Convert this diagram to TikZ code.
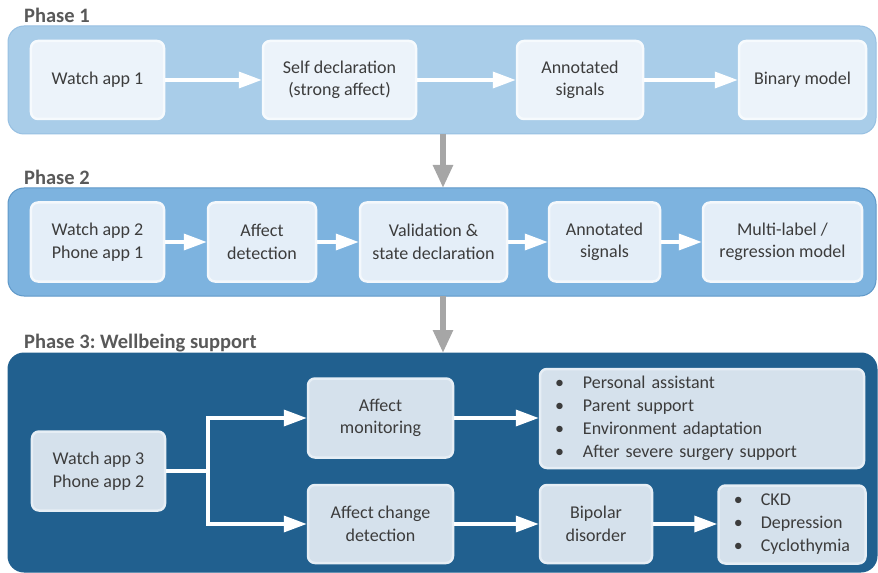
\documentclass[tikz,border=0pt]{standalone}
\usepackage{fontspec}
\setmainfont{Carlito}
\frenchspacing
\usetikzlibrary{arrows.meta}
\definecolor{pone}{HTML}{A9CDE9}
\definecolor{ponee}{HTML}{97C0E2}
\definecolor{ptwo}{HTML}{7DB3DF}
\definecolor{ptwoe}{HTML}{5F98C8}
\definecolor{pthree}{HTML}{21608F}
\definecolor{bone}{HTML}{ECF3FA}
\definecolor{btwo}{HTML}{E4EEF8}
\definecolor{bthree}{HTML}{D5E1EC}
\definecolor{bthreee}{HTML}{E6EEF5}
\definecolor{txt}{HTML}{3C3C3C}
\definecolor{ttl}{HTML}{595959}
\definecolor{garrow}{HTML}{A6A6A6}
\tikzset{
  panel/.style={rounded corners=16bp, line width=1bp},
  boxbase/.style={rounded corners=7bp, line width=2.5bp, align=center, text=txt,
    font=\fontsize{18bp}{22.5bp}\selectfont, inner sep=0pt},
  box1/.style={boxbase, fill=bone, draw=white!55!bone},
  box2/.style={boxbase, fill=btwo, draw=white!60!btwo},
  box3/.style={boxbase, fill=bthree, draw=bthreee},
  listbox/.style={box3, font=\fontsize{18bp}{23bp}\selectfont},
  title/.style={anchor=base west, text=ttl, font=\fontsize{20.5bp}{24bp}\selectfont\bfseries, inner sep=0pt},
  warrow/.style={draw=white, line width=3.5bp, -{Triangle[length=23bp,width=16bp]}},
  garr/.style={draw=garrow, line width=5.5bp, -{Triangle[length=23bp,width=19bp]}}
}
\newcommand{\bul}[1]{\makebox[#1][l]{•}}
\begin{document}
\begin{tikzpicture}[x=1bp,y=-1bp]
\useasboundingbox (0,0) rectangle (878,573);
% panels
\path[panel, fill=pone, draw=ponee] (8,26) rectangle (876,134);
\path[panel, fill=ptwo, draw=ptwoe] (8,188) rectangle (876,296);
\path[panel, fill=pthree, draw=pthree] (8,353) rectangle (877,572);
% titles
\node[title] (t1) at (24,22.5) {Phase 1};
\node[title] (t2) at (24,185) {Phase 2};
\node[title] (t3) at (24,348) {Phase 3: Wellbeing support};
% anchors for inter-phase arrows
\coordinate (p1b) at (443,134);
\coordinate (p2t) at (443,188);
\coordinate (p2b) at (443,296);
\coordinate (p3t) at (443,353);
\draw[garr] (p1b) -- (p2t);
\draw[garr] (p2b) -- (p3t);
% phase 1
\node[box1, minimum width=133bp, minimum height=78bp] (w1) at (97.5,80) {Watch app 1};
\node[box1, minimum width=153bp, minimum height=78bp] (sd) at (339.5,80) {Self declaration\\(strong affect)};
\node[box1, minimum width=126bp, minimum height=78bp] (as1) at (580,80) {Annotated\\signals};
\node[box1, minimum width=127bp, minimum height=78bp] (bm) at (802.5,80) {Binary model};
\draw[warrow] (w1) -- (sd);
\draw[warrow] (sd) -- (as1);
\draw[warrow] (as1) -- (bm);
% phase 2
\node[box2, minimum width=133bp, minimum height=79bp] (w2) at (97.5,242) {Watch app 2\\Phone app 1};
\node[box2, minimum width=108bp, minimum height=79bp] (ad) at (262,242) {Affect\\detection};
\node[box2, minimum width=147bp, minimum height=79bp] (vs) at (433.5,242) {Validation \&\\state declaration};
\node[box2, minimum width=111bp, minimum height=79bp] (as2) at (604.5,242) {Annotated\\signals};
\node[box2, minimum width=159bp, minimum height=79bp] (ml) at (782.5,242) {Multi-label /\\regression model};
\draw[warrow] (w2) -- (ad);
\draw[warrow] (ad) -- (vs);
\draw[warrow] (vs) -- (as2);
\draw[warrow] (as2) -- (ml);
% phase 3
\node[box3, minimum width=133bp, minimum height=79bp] (w3) at (98.5,471) {Watch app 3\\Phone app 2};
\node[box3, minimum width=145bp, minimum height=79bp] (am) at (380.5,418) {Affect\\monitoring};
\node[box3, minimum width=145bp, minimum height=78bp] (acd) at (380.5,524) {Affect change\\detection};
\node[listbox, minimum width=324bp, minimum height=99bp, text width=294bp, inner xsep=15bp, align=left] (l1) at (702,418.5)
  {\bul{28bp}Personal assistant\\\bul{28bp}Parent support\\\bul{28bp}Environment adaptation\\\bul{28bp}After severe surgery support};
\node[box3, minimum width=112bp, minimum height=78bp] (bd) at (596,524) {Bipolar\\disorder};
\node[listbox, minimum width=147bp, minimum height=78bp, align=left] (l2) at (792,524.5)
  {\bul{27bp}CKD\\\bul{27bp}Depression\\\bul{27bp}Cyclothymia};
\coordinate (split) at (208,471);
\draw[warrow] (w3.east) -- (split) |- (am.west);
\draw[warrow] (split) |- (acd.west);
\draw[warrow] (am) -- (l1.west |- am);
\draw[warrow] (acd) -- (bd);
\draw[warrow] (bd) -- (l2.west |- bd);
\end{tikzpicture}
\end{document}
